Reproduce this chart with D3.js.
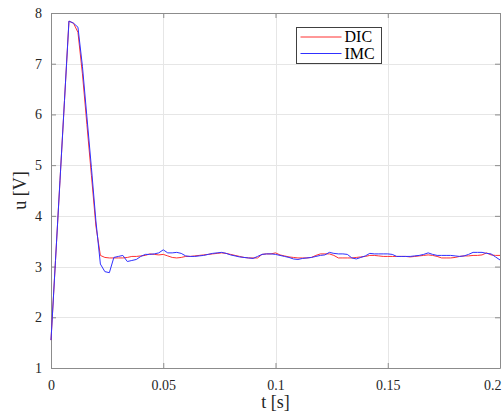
<!DOCTYPE html>
<html>
<head>
<meta charset="utf-8">
<script src="https://cdnjs.cloudflare.com/ajax/libs/d3/7.8.5/d3.min.js"></script>
<style>
  body { margin: 0; background: #fff; }
  svg { display: block; font-family: "Liberation Serif", "Times New Roman", serif; }
  .grid line { stroke: #e6e6e6; stroke-width: 1; }
  .tick text { fill: #262626; font-size: 14px; font-family: "Liberation Serif", "Times New Roman", serif; }
</style>
</head>
<body>
<div id="chart-area"></div>
<script>

// sampled every 2 ms, t = 0 ... 0.2 s
var dt = 0.002;

var dicValues = [
    1.55, 3.12, 4.69, 6.27, 7.84, 7.80, 7.62, 6.80, 5.80, 4.80,
    3.80, 3.22, 3.18, 3.17, 3.17, 3.17, 3.17, 3.18, 3.20, 3.20,
    3.21, 3.22, 3.25, 3.24, 3.23, 3.24, 3.21, 3.18, 3.17, 3.18,
    3.20, 3.20, 3.21, 3.22, 3.23, 3.24, 3.25, 3.26, 3.27, 3.26,
    3.24, 3.22, 3.20, 3.18, 3.17, 3.17, 3.17, 3.24, 3.25, 3.25,
    3.27, 3.23, 3.21, 3.19, 3.18, 3.17, 3.17, 3.17, 3.18, 3.22,
    3.25, 3.25, 3.25, 3.22, 3.17, 3.17, 3.17, 3.17, 3.18, 3.19,
    3.20, 3.22, 3.22, 3.21, 3.20, 3.20, 3.20, 3.20, 3.20, 3.20,
    3.19, 3.20, 3.21, 3.22, 3.23, 3.22, 3.20, 3.17, 3.17, 3.17,
    3.18, 3.20, 3.21, 3.21, 3.22, 3.22, 3.23, 3.27, 3.23, 3.22,
    3.22
];

var imcValues = [
    1.55, 3.12, 4.69, 6.27, 7.84, 7.80, 7.72, 6.95, 5.95, 4.95,
    3.90, 3.05, 2.90, 2.88, 3.18, 3.20, 3.22, 3.10, 3.12, 3.14,
    3.20, 3.24, 3.24, 3.25, 3.27, 3.33, 3.27, 3.27, 3.28, 3.26,
    3.21, 3.20, 3.20, 3.21, 3.22, 3.24, 3.26, 3.27, 3.28, 3.26,
    3.23, 3.21, 3.19, 3.18, 3.17, 3.16, 3.20, 3.24, 3.25, 3.25,
    3.24, 3.22, 3.20, 3.18, 3.15, 3.14, 3.16, 3.17, 3.18, 3.20,
    3.22, 3.23, 3.28, 3.26, 3.25, 3.25, 3.24, 3.17, 3.15, 3.18,
    3.21, 3.26, 3.25, 3.25, 3.25, 3.25, 3.24, 3.20, 3.20, 3.20,
    3.20, 3.21, 3.22, 3.24, 3.27, 3.24, 3.22, 3.22, 3.22, 3.22,
    3.21, 3.20, 3.21, 3.24, 3.28, 3.28, 3.28, 3.26, 3.25, 3.19,
    3.13
];

var seriesNames = ["DIC", "IMC"];
var seriesColors = ["#ff3030", "#3030ff"];

var xTicks = [0, 0.05, 0.1, 0.15, 0.2];
var yTicks = [1, 2, 3, 4, 5, 6, 7, 8];

// Set up SVG
var margin = {top: 13, right: 2, bottom: 44, left: 51};
var width = 502 - margin.left - margin.right,
    height = 412 - margin.top - margin.bottom;

var svg = d3.select("#chart-area").append("svg")
    .attr("width", width + margin.left + margin.right)
    .attr("height", height + margin.top + margin.bottom);

var g = svg.append("g")
    .attr("transform", "translate(" + margin.left + "," + margin.top + ")");

var x = d3.scaleLinear().domain([0, 0.2]).range([0, width]);
var y = d3.scaleLinear().domain([1, 8]).range([height, 0]);

// grid
g.append("g").attr("class", "grid")
    .selectAll("line").data(xTicks).enter().append("line")
    .attr("x1", function(d) { return Math.round(x(d)) + 0.5; })
    .attr("x2", function(d) { return Math.round(x(d)) + 0.5; })
    .attr("y1", 0).attr("y2", height);

g.append("g").attr("class", "grid")
    .selectAll("line").data(yTicks).enter().append("line")
    .attr("y1", function(d) { return Math.round(y(d)) + 0.5; })
    .attr("y2", function(d) { return Math.round(y(d)) + 0.5; })
    .attr("x1", 0).attr("x2", width);

// axes (MATLAB style box, ticks pointing inward)
function styleAxis(sel) {
    sel.attr("font-family", null).attr("font-size", null);
    sel.select(".domain").attr("stroke", "#8c8c8c");
    sel.selectAll(".tick line").attr("stroke", "#8c8c8c");
}

var fmt = function(d) { return d3.format("")(d); };

var xAxis = g.append("g")
    .attr("transform", "translate(0," + height + ")")
    .call(d3.axisBottom(x).tickValues(xTicks).tickSize(-5).tickSizeOuter(0).tickPadding(12).tickFormat(fmt))
    .call(styleAxis);

// last label kept inside the window
xAxis.selectAll(".tick text")
    .filter(function(d) { return d === 0.2; })
    .attr("text-anchor", "end")
    .attr("dx", 1);

g.append("g")
    .call(d3.axisTop(x).tickValues(xTicks).tickSize(-5).tickSizeOuter(0).tickFormat(""))
    .call(styleAxis);

g.append("g")
    .call(d3.axisLeft(y).tickValues(yTicks).tickSize(-5).tickSizeOuter(0).tickPadding(9).tickFormat(fmt))
    .call(styleAxis);

g.append("g")
    .attr("transform", "translate(" + width + ",0)")
    .call(d3.axisRight(y).tickValues(yTicks).tickSize(-5).tickSizeOuter(0).tickFormat(""))
    .call(styleAxis);

// lines
var line = d3.line()
    .x(function(d, i) { return x(i * dt); })
    .y(function(d) { return y(d); });

[dicValues, imcValues].forEach(function(vals, k) {
    g.append("path")
        .datum(vals)
        .attr("fill", "none")
        .attr("stroke", seriesColors[k])
        .attr("stroke-width", 1)
        .attr("d", line);
});

// axis labels
svg.append("text")
    .attr("x", margin.left + width / 2)
    .attr("y", 408)
    .attr("text-anchor", "middle")
    .attr("font-size", "18px")
    .attr("fill", "#262626")
    .text("t [s]");

svg.append("text")
    .attr("transform", "translate(26," + (margin.top + height / 2) + ") rotate(-90)")
    .attr("text-anchor", "middle")
    .attr("font-size", "18px")
    .attr("fill", "#262626")
    .text("u [V]");

// legend
var legend = svg.append("g").attr("transform", "translate(296.5,27.5)");
legend.append("rect")
    .attr("width", 85).attr("height", 36)
    .attr("fill", "#fff").attr("stroke", "#404040").attr("stroke-width", 1);

seriesNames.forEach(function(name, k) {
    var ly = 9.5 + k * 16.5;
    legend.append("line")
        .attr("x1", 4).attr("x2", 45)
        .attr("y1", ly).attr("y2", ly)
        .attr("stroke", seriesColors[k]).attr("stroke-width", 1);
    legend.append("text")
        .attr("x", 48).attr("y", ly + 5)
        .attr("font-size", "16px")
        .attr("fill", "#000")
        .text(name);
});

</script>
</body>
</html>
